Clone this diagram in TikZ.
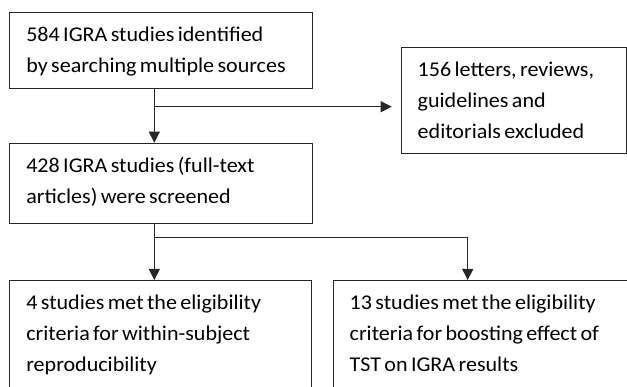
\documentclass[tikz,border=0pt]{standalone}
\usepackage{fontspec}
\setmainfont{Carlito}[FakeStretch=1.05]
\usetikzlibrary{arrows.meta,calc}

\tikzset{
  box/.style={draw=black!85, line width=1pt, anchor=north west, align=left,
    inner xsep=16.5pt, inner ysep=9.5pt, text height=20pt,
    font=\fontsize{21}{31}\selectfont,
    execute at begin node={\spaceskip=3.4pt plus 1pt\relax}},
  link/.style={draw=black!85, line width=1pt},
  conn/.style={link, -{Triangle[length=11pt,width=11pt]}}
}

\begin{document}
\begin{tikzpicture}[x=1pt,y=-1pt]
\useasboundingbox (0,0) rectangle (627,387);
\clip (0,0) rectangle (627,387);

% Draw the boxes
\node[box, text width=269.4pt, text depth=37.6pt] (ident) at (9.3,11.7)
  {584 IGRA studies identified\\by searching multiple sources};
\node[box, text width=192.3pt, text depth=67.6pt] (excluded) at (400.7,46.7)
  {156 letters, reviews,\\guidelines and\\editorials excluded};
\node[box, text width=269.4pt, text depth=41.6pt] (screen) at (9.3,142.7)
  {428 IGRA studies (full-text\\articles) were screened};
\node[box, text width=268.7pt, text depth=81pt] (within) at (9.3,280)
  {4 studies met the eligibility\\criteria for within-subject\\reproducibility};
\node[box, text width=330pt, text depth=81pt] (boost) at (332.7,280)
  {13 studies met the eligibility\\criteria for boosting effect of\\TST on IGRA results};

% Draw the arrows
\coordinate (trunk) at (154.3,106.7);
\coordinate (split) at (154.3,237.8);
\draw[conn] (trunk |- ident.south) -- (trunk |- screen.north);
\draw[conn, shorten >=9pt] (trunk) -- (trunk -| excluded.west);
\draw[link] (split |- screen.south) -- (split);
\draw[conn] (split) -- (split |- within.north);
\draw[conn] (split) -| ([xshift=135pt]boost.north west);

\end{tikzpicture}
\end{document}
